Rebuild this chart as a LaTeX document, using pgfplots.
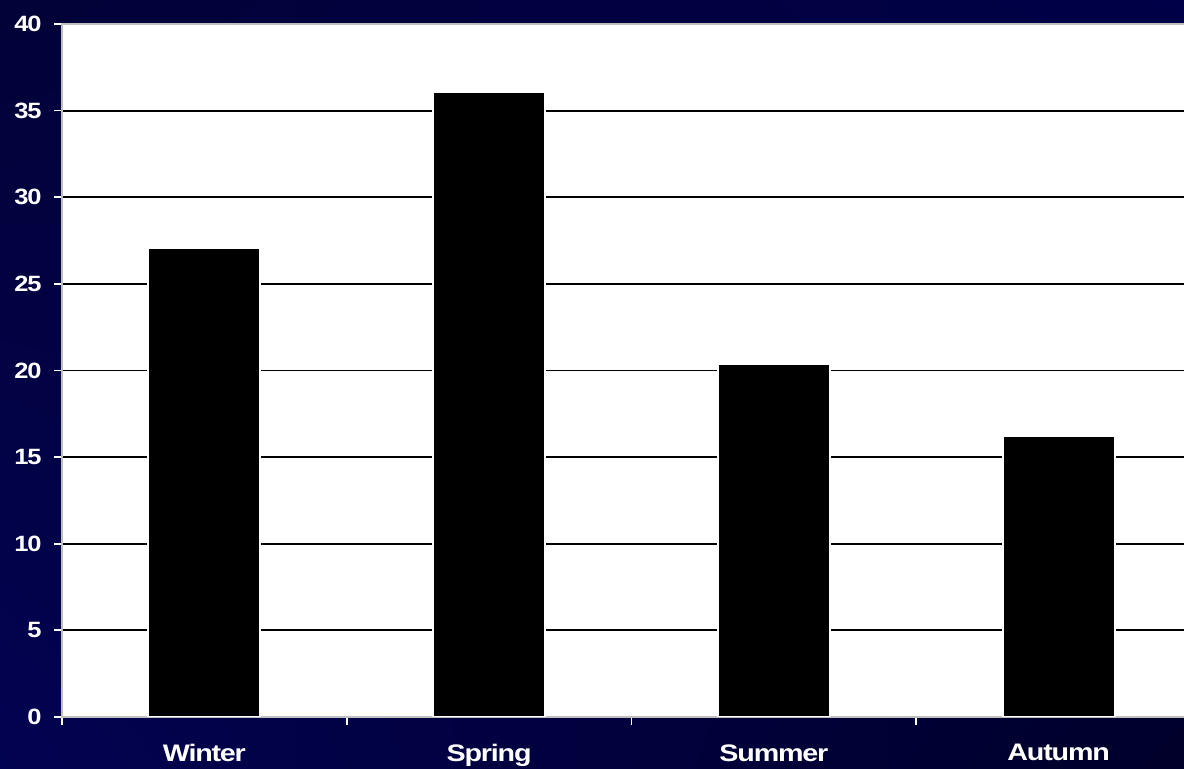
\documentclass[border=0pt]{standalone}
\usepackage{fontspec}
\setmainfont{Liberation Sans}
\usepackage{pgfplots}
\pgfplotsset{compat=1.18}
\usetikzlibrary{shadings}
\definecolor{navyUL}{RGB}{2,2,56}
\definecolor{navyUR}{RGB}{0,0,72}
\definecolor{navyLL}{RGB}{2,2,82}
\definecolor{navyLR}{RGB}{0,0,42}
\begin{document}
\begin{tikzpicture}
\shade[upper left=navyUL, upper right=navyUR, lower left=navyLL, lower right=navyLR] (0,0) rectangle (11.84cm,7.69cm);
\begin{axis}[
  at={(0.62cm,0.52cm)}, anchor=south west,
  scale only axis, width=11.39cm, height=6.93cm,
  axis background/.style={fill=white},
  xmin=-0.5, xmax=3.5, ymin=0, ymax=40,
  ytick={0,5,...,40},
  xtick={-0.5,0.5,1.5,2.5,3.5},
  xticklabels={Winter,Spring,Summer,Autumn},
  x tick label as interval=true,
  xtick pos=bottom, ytick pos=left,
  tick align=outside,
  major tick length=0.08cm,
  tick style={white, line width=0.5pt},
  axis line style={draw=gray!50, line width=0.6pt},
  ymajorgrids, grid style={black, line width=0.55pt},
  ticklabel style={font=\fontsize{6.3}{7}\selectfont\bfseries\addfontfeatures{FakeStretch=1.15,LetterSpace=-5}, text=white},
  xticklabel style={font=\fontsize{6.8}{8}\selectfont\bfseries\addfontfeatures{FakeStretch=1.2,LetterSpace=-5}, yshift=-0.07cm},
  /pgf/number format/assume math mode=true,
  ybar, bar width=1.12cm,
]
\addplot[fill=black, draw=white, line width=0.6pt] coordinates {(0,27.1) (1,36.1) (2,20.35) (3,16.2)};
\end{axis}
\pgfresetboundingbox
\path (0,0) rectangle (11.84cm,7.69cm);
\end{tikzpicture}
\end{document}
